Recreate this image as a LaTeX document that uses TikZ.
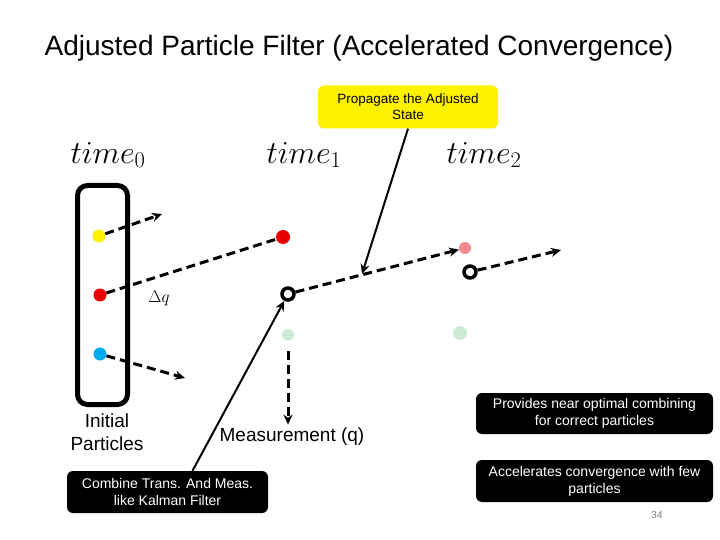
\RequirePackage{fix-cm}
\documentclass[tikz,border=0pt]{standalone}
\usepackage{fontspec}
\setmainfont{Liberation Sans}
\usepackage{amsmath}
\usepackage{tikz}
\usetikzlibrary{arrows.meta, positioning, calc}

\definecolor{ptyellow}{RGB}{255,240,0}
\definecolor{ptred}{RGB}{232,0,0}
\definecolor{ptblue}{RGB}{0,170,235}
\definecolor{ptpink}{RGB}{240,140,140}
\definecolor{ptgreen}{RGB}{205,235,215}
\definecolor{pagegray}{RGB}{120,120,120}

\begin{document}
\begin{tikzpicture}[x=1pt, y=-1pt, >={Stealth[length=10pt, width=9pt]},
		particle/.style={circle, inner sep=0pt, minimum size=13pt},
		estimate/.style={circle, draw, line width=3.5pt, inner sep=0pt, minimum size=12pt, fill=white},
		jump/.style={dashed, line width=3pt, dash pattern=on 9pt off 5pt},
		link/.style={->, line width=2pt},
		callout/.style={fill=black, text=white, rounded corners=6pt, align=center, font=\fontsize{14}{17}\selectfont},
		timelabel/.style={font=\fontsize{32}{36}\selectfont}]
				\useasboundingbox (0,0) rectangle (720,540);
				\node (title) at (359, 48) {\fontsize{28}{32}\selectfont Adjusted Particle Filter (Accelerated Convergence)};
				
				\node[fill=yellow, rounded corners=6pt, minimum width=180pt, minimum height=43pt, align=center, font=\fontsize{13.5}{16}\selectfont] (prop) at (408, 107) {Propagate the Adjusted\\State};
				
				\node[timelabel] (t0) at (108, 155) {$time_0$};
				\node[timelabel] (t1) at (304, 155) {$time_1$};
				\node[timelabel] (t2) at (484, 155) {$time_2$};
				
				\node[draw, line width=5pt, rounded corners=10pt, minimum width=50pt, minimum height=219pt] (pool) at (102.5, 295) {};
				\node[particle, fill=ptyellow] (y0) at (99, 236) {};
				\node[particle, fill=ptred] (r0) at (100, 295) {};
				\node[particle, fill=ptblue] (b0) at (100, 354) {};
				\node[align=center, font=\fontsize{19}{23}\selectfont] (init) at (107, 432) {Initial\\Particles};
				\node[font=\fontsize{17}{19}\selectfont] (dq) at (159, 298) {$\Delta q$};
				
				\node[particle, fill=ptred, minimum size=14pt] (r1) at (283, 237) {};
				\node[estimate] (e1) at (288, 294) {};
				\node[particle, fill=ptgreen, minimum size=12pt] (g1) at (288, 335) {};
				\node[font=\fontsize{19}{23}\selectfont] (meas) at (292, 437) {Measurement (q)};
				
				\node[particle, fill=ptpink, minimum size=12pt] (p2) at (465, 248) {};
				\node[estimate] (e2) at (470, 272) {};
				\node[particle, fill=ptgreen, minimum size=14pt] (g2) at (460, 333) {};
				
				\coordinate (y0end) at (162, 214);
				\coordinate (b0end) at (185, 378);
				\coordinate (e2end) at (561, 250);
				\coordinate (hit) at (362, 274);
				
				\node[callout, minimum width=201pt, minimum height=42pt] (comb) at (167.5, 492) {Combine Trans. And Meas.\\like Kalman Filter};
				\node[callout, minimum width=237pt, minimum height=41pt] (prov) at (594.5, 413.5) {Provides near optimal combining\\for correct particles};
				\node[callout, minimum width=237pt, minimum height=42pt] (accel) at (594.5, 481) {Accelerates convergence with few\\particles};
				\node[text=pagegray, font=\fontsize{10}{12}\selectfont] (page) at (657, 515) {34};
				
				\draw[->, jump] (y0) -- (y0end);
				\draw[jump] (r0) -- (r1);
				\draw[->, jump] (b0) -- (b0end);
				\draw[->, jump] (e1) -- (p2);
				\draw[->, jump] (e2) -- (e2end);
				\draw[->, jump, shorten <=10pt] (g1) -- (g1 |- meas.north);
				
				\draw[link] (prop.south) -- (hit);
				\draw[link] ([xshift=25pt]comb.north) -- (e1);
			\end{tikzpicture}
\end{document}
